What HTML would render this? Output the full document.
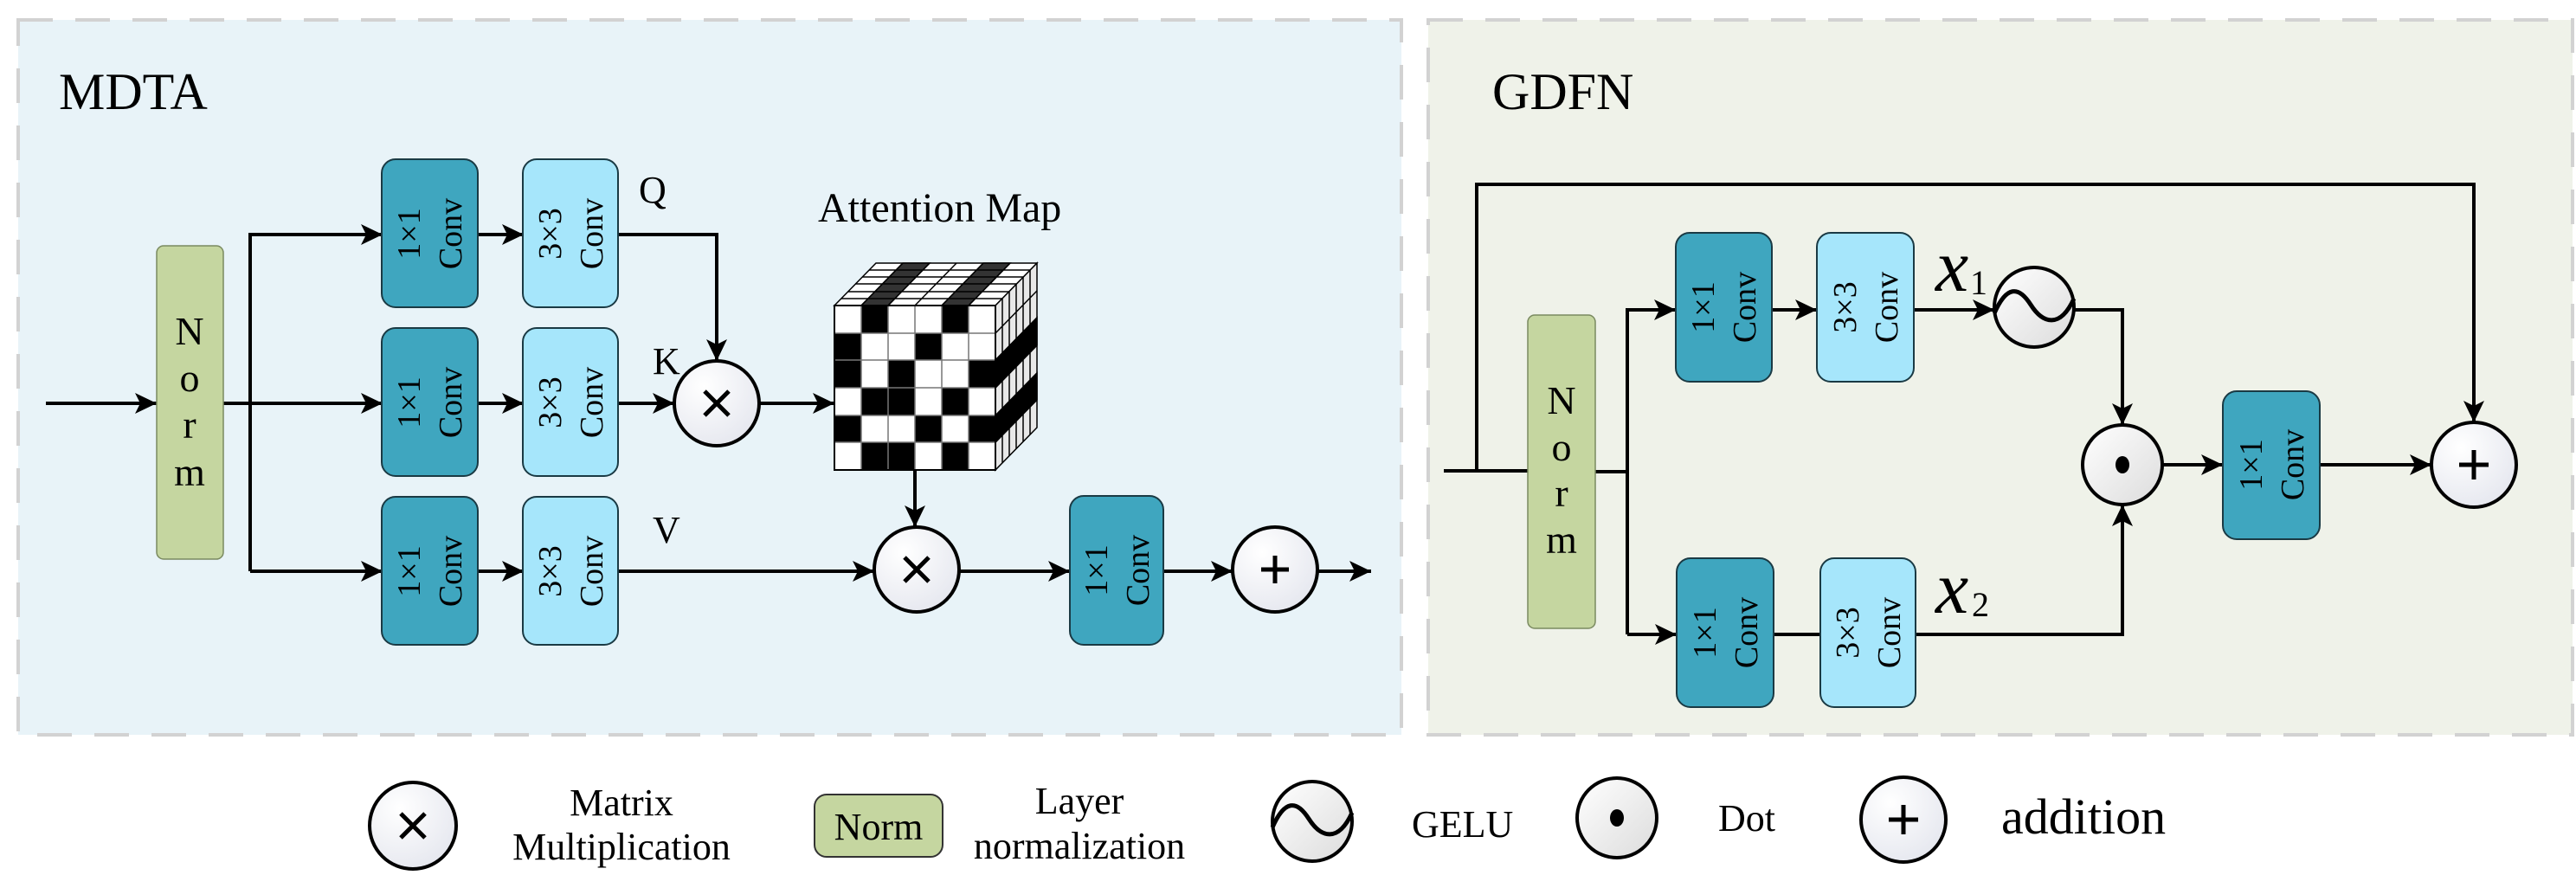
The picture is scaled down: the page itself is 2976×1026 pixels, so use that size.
<!DOCTYPE html>
<html><head><meta charset="utf-8"><style>
html,body{margin:0;padding:0;background:#fff}
svg{display:block}
text{font-family:"Liberation Serif",serif;fill:#000}
</style></head><body>
<svg width="2976" height="1026" viewBox="0 0 2976 1026" xmlns="http://www.w3.org/2000/svg">
<defs>
<marker id="a" markerUnits="userSpaceOnUse" markerWidth="26" markerHeight="24" refX="25" refY="12" orient="auto">
<path d="M0,0 L25,12 L0,24 L6,12 z" fill="#000"/></marker>
<radialGradient id="g" cx="0.35" cy="0.3" r="0.8"><stop offset="0" stop-color="#ffffff"/><stop offset="1" stop-color="#e4e6ee"/></radialGradient>
<linearGradient id="g2" x1="0" y1="0" x2="1" y2="1"><stop offset="0" stop-color="#ffffff"/><stop offset="1" stop-color="#dcdcdc"/></linearGradient>
</defs>

<!-- panels -->
<rect x="21" y="23" width="1598" height="826" fill="#e8f3f8" stroke="#d2d2d2" stroke-width="4" stroke-dasharray="40,26"/>
<rect x="1650" y="23" width="1322" height="826" fill="#eff2e9" stroke="#d2d2d2" stroke-width="4" stroke-dasharray="40,26"/>

<text x="68" y="126" font-size="60">MDTA</text>
<text x="1724" y="126" font-size="60">GDFN</text>

<g fill="none" stroke="#000" stroke-width="4">
<!-- MDTA lines -->
<path d="M53,466 H181" marker-end="url(#a)"/>
<path d="M258,466 H442" marker-end="url(#a)"/>
<path d="M289,660 V271 H442" marker-end="url(#a)"/>
<path d="M289,660 H442" marker-end="url(#a)"/>
<path d="M551,271 H605" marker-end="url(#a)"/>
<path d="M551,466 H605" marker-end="url(#a)"/>
<path d="M551,660 H605" marker-end="url(#a)"/>
<path d="M713,271 H828 V417" marker-end="url(#a)"/>
<path d="M713,466 H779" marker-end="url(#a)"/>
<path d="M877,466 H964" marker-end="url(#a)"/>
<path d="M1057,543 V609" marker-end="url(#a)"/>
<path d="M713,660 H1010" marker-end="url(#a)"/>
<path d="M1108,660 H1236" marker-end="url(#a)"/>
<path d="M1344,660 H1424" marker-end="url(#a)"/>
<path d="M1522,660 H1584" marker-end="url(#a)"/>
<!-- GDFN lines -->
<path d="M1668,544 H1765"/>
<path d="M1706,544 V213 H2858 V488" marker-end="url(#a)"/>
<path d="M1843,545 H1880"/>
<path d="M1880,733 V358 H1936" marker-end="url(#a)"/>
<path d="M1880,733 H1937" marker-end="url(#a)"/>
<path d="M2047,358 H2099" marker-end="url(#a)"/>
<path d="M2211,358 H2304" marker-end="url(#a)"/>
<path d="M2396,358 H2452 V491" marker-end="url(#a)"/>
<path d="M2049,733 H2103"/>
<path d="M2213,733 H2452 V583" marker-end="url(#a)"/>
<path d="M2498,537 H2568" marker-end="url(#a)"/>
<path d="M2680,537 H2809" marker-end="url(#a)"/>
</g>

<!-- Norm boxes -->
<rect x="181" y="284" width="77" height="362" rx="8" fill="#c5d6a0" stroke="#7a8a60" stroke-width="1.5"/>
<g font-size="46" text-anchor="middle">
<text x="219" y="398">N</text><text x="219" y="452">o</text><text x="219" y="506">r</text><text x="219" y="561">m</text>
</g>
<rect x="1765" y="364" width="78" height="362" rx="8" fill="#c5d6a0" stroke="#7a8a60" stroke-width="1.5"/>
<g font-size="46" text-anchor="middle">
<text x="1804" y="478">N</text><text x="1804" y="532">o</text><text x="1804" y="585">r</text><text x="1804" y="639">m</text>
</g>

<!-- Conv boxes -->
<g stroke="#1a3a44" stroke-width="2">
<rect x="441" y="184" width="111" height="171" rx="16" fill="#3fa6bf"/>
<rect x="441" y="379" width="111" height="171" rx="16" fill="#3fa6bf"/>
<rect x="441" y="574" width="111" height="171" rx="16" fill="#3fa6bf"/>
<rect x="604" y="184" width="110" height="171" rx="16" fill="#a6e6fb"/>
<rect x="604" y="379" width="110" height="171" rx="16" fill="#a6e6fb"/>
<rect x="604" y="574" width="110" height="171" rx="16" fill="#a6e6fb"/>
<rect x="1236" y="573" width="108" height="172" rx="16" fill="#3fa6bf"/>
<rect x="1936" y="269" width="111" height="172" rx="16" fill="#3fa6bf"/>
<rect x="2099" y="269" width="112" height="172" rx="16" fill="#a6e6fb"/>
<rect x="1937" y="645" width="112" height="172" rx="16" fill="#3fa6bf"/>
<rect x="2103" y="645" width="110" height="172" rx="16" fill="#a6e6fb"/>
<rect x="2568" y="452" width="112" height="171" rx="16" fill="#3fa6bf"/>
</g>
<g font-size="38" text-anchor="middle">
<text transform="translate(496,270) rotate(-90)"><tspan x="0" y="-11">1×1</tspan><tspan x="0" y="37">Conv</tspan></text>
<text transform="translate(496,465) rotate(-90)"><tspan x="0" y="-11">1×1</tspan><tspan x="0" y="37">Conv</tspan></text>
<text transform="translate(496,660) rotate(-90)"><tspan x="0" y="-11">1×1</tspan><tspan x="0" y="37">Conv</tspan></text>
<text transform="translate(659,270) rotate(-90)"><tspan x="0" y="-11">3×3</tspan><tspan x="0" y="37">Conv</tspan></text>
<text transform="translate(659,465) rotate(-90)"><tspan x="0" y="-11">3×3</tspan><tspan x="0" y="37">Conv</tspan></text>
<text transform="translate(659,660) rotate(-90)"><tspan x="0" y="-11">3×3</tspan><tspan x="0" y="37">Conv</tspan></text>
<text transform="translate(1290,659) rotate(-90)"><tspan x="0" y="-11">1×1</tspan><tspan x="0" y="37">Conv</tspan></text>
<text transform="translate(1991,355) rotate(-90)"><tspan x="0" y="-11">1×1</tspan><tspan x="0" y="37">Conv</tspan></text>
<text transform="translate(2155,355) rotate(-90)"><tspan x="0" y="-11">3×3</tspan><tspan x="0" y="37">Conv</tspan></text>
<text transform="translate(1993,731) rotate(-90)"><tspan x="0" y="-11">1×1</tspan><tspan x="0" y="37">Conv</tspan></text>
<text transform="translate(2158,731) rotate(-90)"><tspan x="0" y="-11">3×3</tspan><tspan x="0" y="37">Conv</tspan></text>
<text transform="translate(2624,537) rotate(-90)"><tspan x="0" y="-11">1×1</tspan><tspan x="0" y="37">Conv</tspan></text>
</g>

<!-- labels -->
<g font-size="44">
<text x="738" y="234">Q</text>
<text x="754" y="432">K</text>
<text x="754" y="627">V</text>
</g>
<text x="945" y="256" font-size="48">Attention Map</text>
<text x="2236" y="336" font-size="86" font-style="italic">x</text><text x="2276" y="340" font-size="40">1</text>
<text x="2236" y="708" font-size="86" font-style="italic">x</text><text x="2278" y="712" font-size="40">2</text>

<!-- Operators -->
<g stroke="#000" stroke-width="4">
<circle cx="828" cy="466" r="49" fill="url(#g)"/>
<circle cx="1059" cy="658" r="49" fill="url(#g)"/>
<circle cx="1473" cy="658" r="49" fill="url(#g)"/>
<circle cx="2350" cy="355" r="46" fill="url(#g2)"/>
<circle cx="2452" cy="537" r="46" fill="url(#g2)"/>
<circle cx="2858" cy="537" r="49" fill="url(#g)"/>
</g>
<g stroke="#000" stroke-width="5" stroke-linecap="butt" fill="none">
<path d="M814,452 L842,480 M842,452 L814,480"/>
<path d="M1045,644 L1073,672 M1073,644 L1045,672"/>
<path d="M1473,642 V674 M1457,658 H1489"/>
<path d="M2858,520 V554 M2841,537 H2875"/>
<path d="M2304,362 C2318,330 2332,330 2346,352 S2380,380 2396,345"/>
</g>
<ellipse cx="2452" cy="537" rx="8" ry="10" fill="#000"/>

<!-- Attention cube -->
<g stroke="#000" stroke-width="1.5">
<!-- top face -->
<g id="top"></g>
<!-- built below -->
</g>
<g stroke="#000" stroke-width="1.5">
<!-- top face cells: col c (0..5), depth d (0..5) -->
<path fill="#fff" d="M964,353 L1012,304 L1198,304 L1150,353 Z"/>
<!-- dark columns 2 and 5 (index 1, 4) -->
<path fill="#333" d="M995,353 L1043,304 L1074,304 L1026,353 Z"/>
<path fill="#333" d="M1088,353 L1136,304 L1167,304 L1119,353 Z"/>
<!-- top grid lines -->
<path fill="none" d="M995,353 L1043,304 M1026,353 L1074,304 M1057,353 L1105,304 M1088,353 L1136,304 M1119,353 L1167,304
M972,345 L1158,345 M980,337 L1166,337 M988,328 L1174,328 M996,320 L1182,320 M1004,312 L1190,312"/>
<!-- side face -->
<path fill="#e8e8e8" d="M1150,353 L1198,304 L1198,494 L1150,543 Z"/>
<path fill="#000" d="M1150,416 L1198,367 L1198,399 L1150,448 Z"/>
<path fill="#000" d="M1150,480 L1198,431 L1198,462 L1150,511 Z"/>
<path fill="none" d="M1158,345 V535 M1166,337 V527 M1174,328 V519 M1182,320 V510 M1190,312 V502
M1150,385 L1198,336 M1150,416 L1198,367 M1150,448 L1198,399 M1150,480 L1198,431 M1150,511 L1198,462"/>
<!-- front face -->
<rect x="964" y="353" width="186" height="190" fill="#fff"/>
</g>
<g fill="#000">
<!-- row1: W B W W B W -->
<rect x="995" y="353" width="31" height="32"/><rect x="1088" y="353" width="31" height="32"/>
<!-- row2: B W W B W W -->
<rect x="964" y="385" width="31" height="31"/><rect x="1057" y="385" width="31" height="31"/>
<!-- row3: B W B W W B -->
<rect x="964" y="416" width="31" height="32"/><rect x="1026" y="416" width="31" height="32"/><rect x="1119" y="416" width="31" height="32"/>
<!-- row4: W B B W B W -->
<rect x="995" y="448" width="62" height="32"/><rect x="1088" y="448" width="31" height="32"/>
<!-- row5: B W W B W B -->
<rect x="964" y="480" width="31" height="31"/><rect x="1057" y="480" width="31" height="31"/><rect x="1119" y="480" width="31" height="31"/>
<!-- row6: W B B W B W -->
<rect x="995" y="511" width="62" height="32"/><rect x="1088" y="511" width="31" height="32"/>
</g>
<g stroke="#000" stroke-width="1.5" fill="none">
<path d="M995,353 V543 M1026,353 V543 M1057,353 V543 M1088,353 V543 M1119,353 V543
M964,385 H1150 M964,416 H1150 M964,448 H1150 M964,480 H1150 M964,511 H1150" stroke="#777"/>
<rect x="964" y="353" width="186" height="190" stroke-width="2"/>
</g>

<!-- Legend -->
<circle cx="477" cy="954" r="50" fill="url(#g)" stroke="#000" stroke-width="4"/>
<path d="M463,940 L491,968 M491,940 L463,968" stroke="#000" stroke-width="5"/>
<g font-size="44" text-anchor="middle">
<text x="718" y="942">Matrix</text>
<text x="718" y="993">Multiplication</text>
<text x="1247" y="940">Layer</text>
<text x="1247" y="992">normalization</text>
</g>
<rect x="941" y="918" width="148" height="72" rx="14" fill="#c5d6a0" stroke="#333" stroke-width="2"/>
<text x="1015" y="970" font-size="44" text-anchor="middle">Norm</text>

<circle cx="1516" cy="949" r="46" fill="url(#g2)" stroke="#000" stroke-width="4"/>
<path d="M1470,956 C1484,924 1498,924 1512,946 S1546,974 1562,939" stroke="#000" stroke-width="5" fill="none"/>
<text x="1631" y="967" font-size="44">GELU</text>

<circle cx="1868" cy="945" r="46" fill="url(#g2)" stroke="#000" stroke-width="4"/>
<ellipse cx="1868" cy="945" rx="8" ry="10" fill="#000"/>
<text x="1985" y="960" font-size="44">Dot</text>

<circle cx="2199" cy="947" r="49" fill="url(#g)" stroke="#000" stroke-width="4"/>
<path d="M2199,930 V964 M2182,947 H2216" stroke="#000" stroke-width="5"/>
<text x="2312" y="963" font-size="58">addition</text>
</svg>
</body></html>
